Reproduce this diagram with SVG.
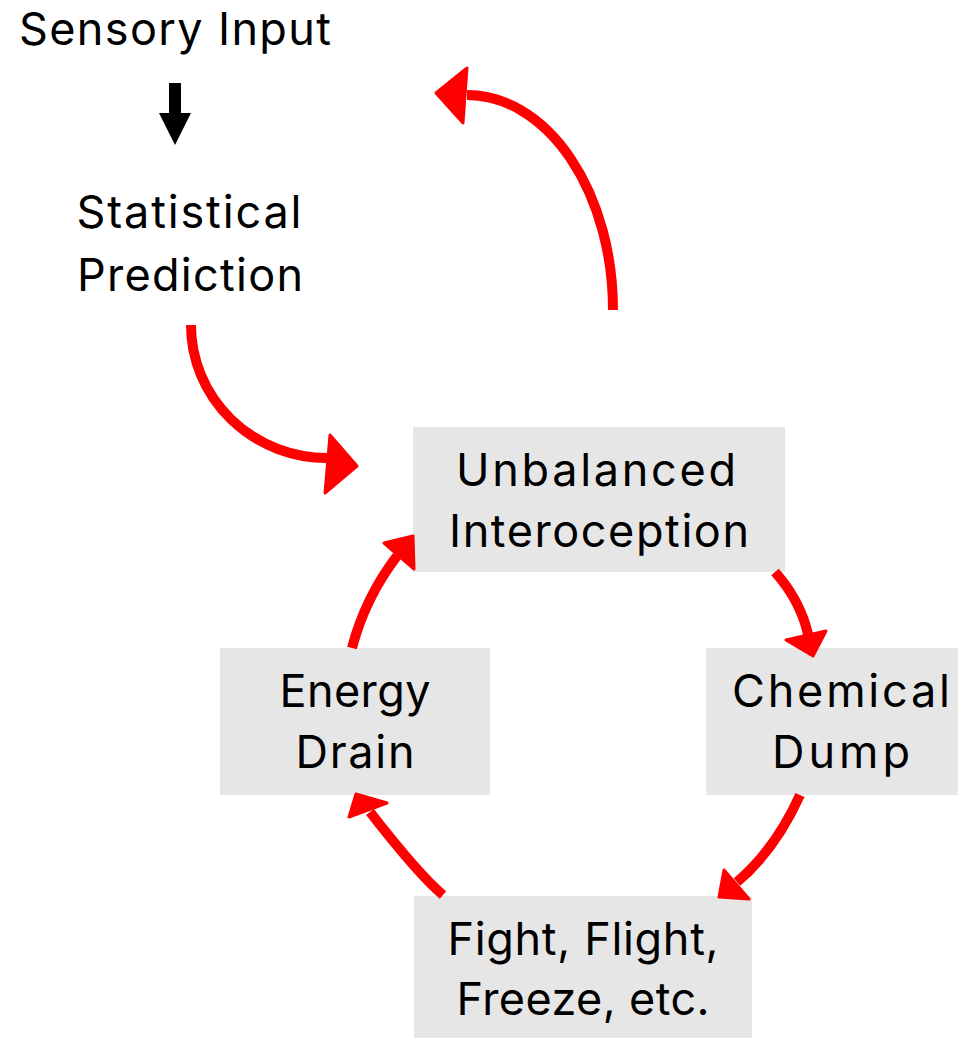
<svg xmlns="http://www.w3.org/2000/svg" width="958" height="1038" viewBox="0 0 958 1038">
  <style>
    .box { fill: #E7E6E6; }
    .label { font-family: Inter, "Open Sans", "Liberation Sans", sans-serif; font-size: 45px; fill: #000; text-anchor: middle; }
    .flow { fill: none; stroke: #FF0000; stroke-width: 10; }
    .head { fill: #FF0000; stroke: #FF0000; stroke-width: 3; stroke-linejoin: round; }
  </style>
  <rect width="958" height="1038" fill="#fff"/>

  <g id="sensory-input">
    <text class="label" x="175" y="45" textLength="312" lengthAdjust="spacing">Sensory Input</text>
  </g>

  <g id="statistical-prediction">
    <text class="label" x="189" y="228" textLength="225" lengthAdjust="spacing">Statistical</text>
    <text class="label" x="190" y="291" textLength="226" lengthAdjust="spacing">Prediction</text>
  </g>

  <g id="unbalanced-interoception">
    <rect class="box" x="413" y="427" width="372" height="145"/>
    <text class="label" x="596" y="486" textLength="280" lengthAdjust="spacing">Unbalanced</text>
    <text class="label" x="599" y="547" textLength="300" lengthAdjust="spacing">Interoception</text>
  </g>

  <g id="energy-drain">
    <rect class="box" x="220" y="648" width="270" height="147"/>
    <text class="label" x="355" y="707" textLength="151" lengthAdjust="spacing">Energy</text>
    <text class="label" x="355" y="768" textLength="119" lengthAdjust="spacing">Drain</text>
  </g>

  <g id="chemical-dump">
    <rect class="box" x="706" y="648" width="252" height="147"/>
    <text class="label" x="841" y="707" textLength="218" lengthAdjust="spacing">Chemical</text>
    <text class="label" x="841" y="768" textLength="138" lengthAdjust="spacing">Dump</text>
  </g>

  <g id="fight-flight-freeze">
    <rect class="box" x="414" y="896" width="338" height="142"/>
    <text class="label" x="583" y="955" textLength="271" lengthAdjust="spacing">Fight, Flight,</text>
    <text class="label" x="583" y="1015" textLength="253" lengthAdjust="spacing">Freeze, etc.</text>
  </g>

  <g id="connectors">
    <!-- sensory input down to prediction -->
    <polygon fill="#000" points="169,83 181,83 181,113 191,113 175,145 159,113 169,113"/>

    <!-- loop back up toward the input -->
    <path class="flow" d="M 613 310 A 146 215 0 0 0 467 95"/>
    <polygon class="head" points="436,93 467,68 463,123"/>

    <!-- prediction into interoception -->
    <path class="flow" d="M 191 325 A 136 133 0 0 0 329 458"/>
    <polygon class="head" points="357,466 330,435 325,493"/>

    <!-- cycle -->
    <path class="flow" d="M 352 648 Q 365 598 397 556"/>
    <polygon class="head" points="413,536 384,543 414,569"/>

    <path class="flow" d="M 775 572 Q 800 600 808 634"/>
    <polygon class="head" points="813,656 786,640 826,631"/>

    <path class="flow" d="M 800 795 Q 775 850 737 882"/>
    <polygon class="head" points="719,897 724,870 749,899"/>

    <path class="flow" d="M 443 895 Q 419 875 370 812"/>
    <polygon class="head" points="356,794 349,817 387,803"/>
  </g>
</svg>
